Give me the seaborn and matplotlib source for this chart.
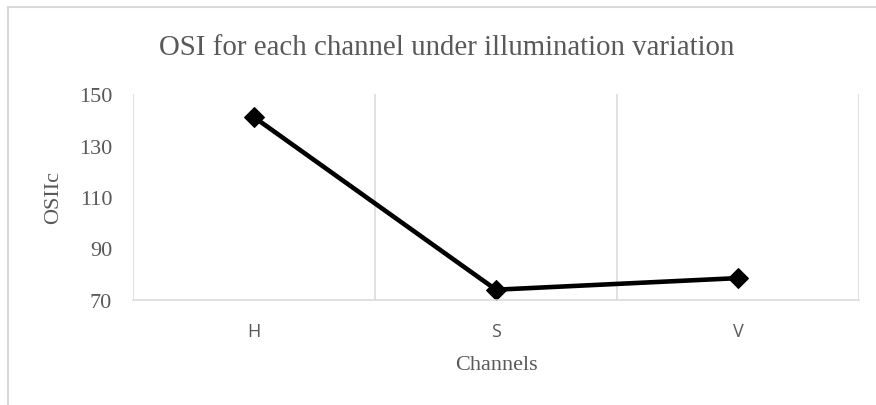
import matplotlib
matplotlib.use("Agg")
import matplotlib.pyplot as plt
from matplotlib.patches import Rectangle
from matplotlib.ticker import FixedLocator
import seaborn as sns
import pandas as pd

# Data
channels = ["H", "S", "V"]
osi_values = [141, 74, 78.5]
y_ticks = [70, 90, 110, 130, 150]

title_text = "OSI for each channel under illumination variation"
x_label = "Channels"
y_label = "OSIIc"

df = pd.DataFrame({"Channel": channels, "OSI": osi_values})

sns.set_theme(style="white")
plt.rcParams["font.family"] = ["Liberation Serif", "DejaVu Serif"]

text_gray = "#595959"
grid_gray = "#d9d9d9"

fig = plt.figure(figsize=(8.76, 4.06), dpi=100)
ax = fig.add_axes([133 / 876, 1 - 301 / 406, (859 - 133) / 876, (301 - 95) / 406])

sns.lineplot(data=df, x="Channel", y="OSI", ax=ax, color="black",
             linewidth=3.3, marker="D", markersize=10,
             markeredgecolor="black", markerfacecolor="black", sort=False)

ax.set_xlim(-0.5, len(channels) - 0.5)
ax.set_ylim(y_ticks[0], y_ticks[-1])
ax.set_yticks(y_ticks)
ax.set_yticklabels([str(t) for t in y_ticks], fontsize=16, color=text_gray,
                   family=["Liberation Serif"])
ax.set_xticks(range(len(channels)))
ax.set_xticklabels(channels, fontsize=13, color=text_gray, family=["Open Sans"])

# vertical gridlines on category boundaries
ax.xaxis.set_minor_locator(FixedLocator([i - 0.5 for i in range(len(channels) + 1)]))
ax.grid(which="minor", axis="x", color=grid_gray, linewidth=1.1)
ax.grid(which="major", visible=False)
ax.tick_params(axis="both", which="both", length=0)
ax.tick_params(axis="y", pad=15)
ax.tick_params(axis="x", pad=16)

for side in ["top", "right", "left"]:
    ax.spines[side].set_visible(False)
ax.spines["bottom"].set_color(grid_gray)
ax.spines["bottom"].set_linewidth(1.1)

ax.set_xlabel(x_label, fontsize=16, color=text_gray)
ax.set_ylabel(y_label, fontsize=16, color=text_gray)
ax.xaxis.set_label_coords(0.5, -(356 - 301) / 206, transform=ax.transAxes)
ax.yaxis.set_label_coords(-(133 - 63) / 726, 0.5)

fig.text(447 / 876, 1 - 48 / 406, title_text, ha="center", va="center",
         fontsize=20.8, color=text_gray)

# chart area border
fig.patches.append(Rectangle((7.5 / 876, -0.2), 1.2, 1.2 - 7.5 / 406,
                             transform=fig.transFigure, fill=False,
                             edgecolor=grid_gray, linewidth=1.5))

fig.savefig("out.png", dpi=100)
